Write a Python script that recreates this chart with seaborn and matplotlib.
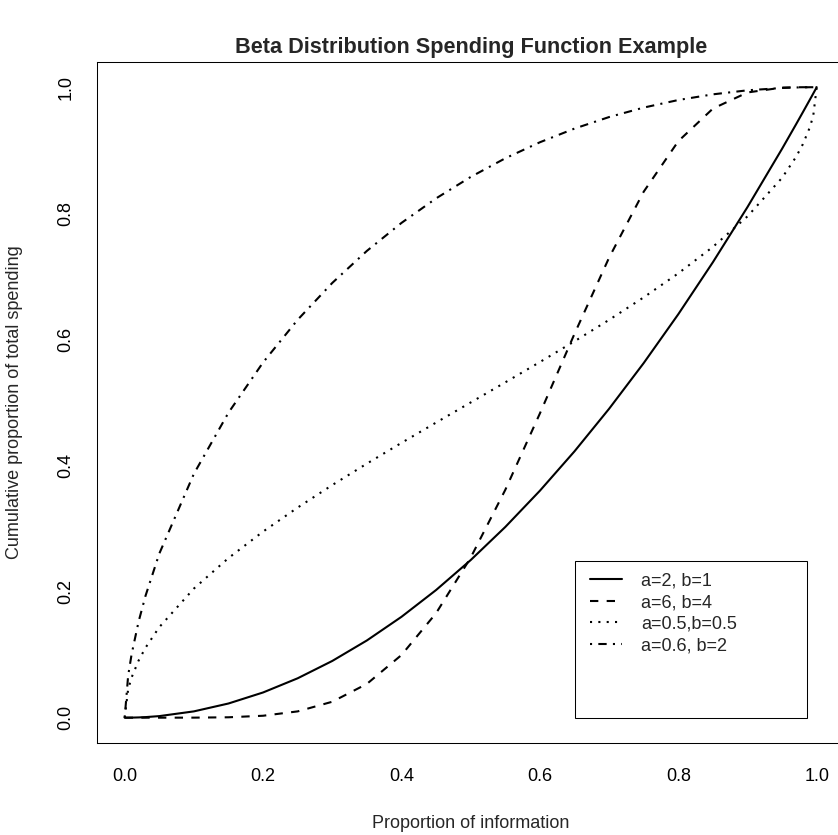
import matplotlib
matplotlib.use("Agg")
import matplotlib.pyplot as plt
import matplotlib.patches as mpatches
import seaborn as sns
import pandas as pd

# ---- data ----
x_info = [0, .005, .01, .02, .03, .05, .1, .15, .2, .25, .3, .35, .4, .45, .5,
          .55, .6, .65, .7, .75, .8, .85, .9, .95, .97, .98, .99, .995, 1]
spend_a2_b1 = [0, .000025, .0001, .0004, .0009, .0025, .01, .0225, .04, .0625, .09,
               .1225, .16, .2025, .25, .3025, .36, .4225, .49, .5625, .64, .7225,
               .81, .9025, .9409, .9604, .9801, .9900, 1]
spend_a6_b4 = [0, 0, 0, 0, 0, 0.000001, 0.000064, 0.00063, 0.00307, 0.00999, 0.0253,
               0.0536, 0.0994, 0.1658, 0.2539, 0.3614, 0.4826, 0.6089, 0.7297,
               0.8343, 0.9144, 0.9661, 0.9917, 0.9994, 0.9999, 1.0, 1.0, 1.0, 1.0]
spend_a05_b05 = [0, .0451, .0638, .0903, .1108, .1436, .2048, .2532, .2952, .3333,
                 .3690, .4030, .4359, .4681, .5, .5319, .5641, .5970, .6310, .6667,
                 .7048, .7468, .7952, .8564, .8892, .9097, .9362, .9549, 1]
spend_a06_b2 = [0, .0665, .1006, .1519, .1929, .2602, .3868, .4838, .5635, .6312,
                .6896, .7404, .7848, .8237, .8577, .8873, .9127, .9344, .9527, .9677,
                .9797, .9887, .9951, .9988, .9996, .9998, 1.0, 1.0, 1.0]
series_labels = ["a=2, b=1", "a=6, b=4", "a=0.5,b=0.5", "a=0.6, b=2"]
x_ticks = [0.0, 0.2, 0.4, 0.6, 0.8, 1.0]
y_ticks = [0.0, 0.2, 0.4, 0.6, 0.8, 1.0]
tick_labels = ["0.0", "0.2", "0.4", "0.6", "0.8", "1.0"]

title = "Beta Distribution Spending Function Example"
xlabel = "Proportion of information"
ylabel = "Cumulative proportion of total spending"

# ---- tidy frame ----
frames = []
for lab, ys in zip(series_labels, [spend_a2_b1, spend_a6_b4, spend_a05_b05, spend_a06_b2]):
    frames.append(pd.DataFrame({"x": x_info, "y": ys, "series": lab}))
df = pd.concat(frames, ignore_index=True)

sns.set_style("white")
plt.rcParams["font.family"] = ["Liberation Sans", "DejaVu Sans"]
plt.rcParams["lines.scale_dashes"] = True

W, H = 838, 835
fig = plt.figure(figsize=(W / 100, H / 100), dpi=100)
fig.patch.set_facecolor("white")

left, right, top, bottom = 97.0, 844.4, 62.0, 742.9
ax = fig.add_axes([left / W, 1 - bottom / H, (right - left) / W, (bottom - top) / H])
ax.set_facecolor("white")

dash_map = {
    "a=2, b=1": "",
    "a=6, b=4": (4, 4),
    "a=0.5,b=0.5": (1, 3),
    "a=0.6, b=2": (1, 3, 4, 3),
}
sns.lineplot(data=df, x="x", y="y", style="series", style_order=series_labels,
             dashes=dash_map, color="black", linewidth=1.5, ax=ax,
             legend=False, estimator=None, sort=True)
for ln in ax.get_lines():
    ln.set_solid_joinstyle("round")
    ln.set_solid_capstyle("round")

ax.set_xlim(-0.04, 1.04)
ax.set_ylim(-0.04, 1.04)
ax.set_xticks(x_ticks)
ax.set_yticks(y_ticks)
ax.set_xticklabels(tick_labels, fontsize=13)
ax.set_yticklabels(tick_labels, fontsize=13, rotation=90, va="center")
ax.tick_params(axis="both", direction="out", length=7.9, width=0.75, color="black",
               labelcolor="black")
ax.tick_params(axis="x", pad=10.5)
ax.tick_params(axis="y", pad=8.3)
ax.set_xlabel("")
ax.set_ylabel("")
for sp in ax.spines.values():
    sp.set_visible(True)
    sp.set_color("black")
    sp.set_linewidth(0.75)

# legend box (data coordinates, as in the reference)
rect = mpatches.Rectangle((0.65, 0.0), 0.3364, 0.249, fill=False, edgecolor="black",
                          linewidth=0.75, clip_on=False, zorder=5)
ax.add_patch(rect)
handles = ax.get_lines()[:4]
leg = ax.legend(handles, series_labels, loc="upper left",
                bbox_to_anchor=(590 / W, 1 - 572.5 / H), bbox_transform=fig.transFigure,
                frameon=False, borderpad=0, borderaxespad=0, handlelength=1.79,
                handletextpad=1.04, labelspacing=0.25, fontsize=13)

fig.text((left + right) / 2 / W, 1 - 47 / H, title, ha="center", va="center",
         fontsize=15.6, fontweight="bold")
fig.text((left + right) / 2 / W, 1 - 828 / H, xlabel, ha="center", va="baseline",
         fontsize=13)
fig.text(14.5 / W, 1 - (top + bottom) / 2 / H, ylabel, ha="center", va="center",
         rotation=90, fontsize=13)

fig.savefig("out.png", dpi=100, facecolor="white")
